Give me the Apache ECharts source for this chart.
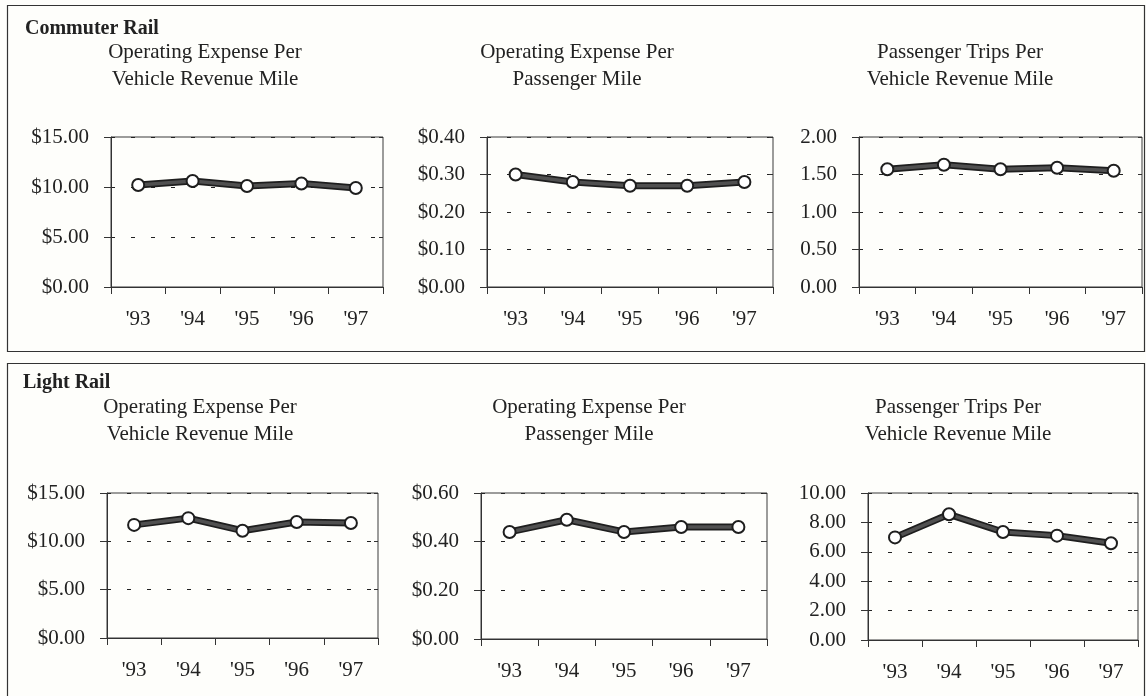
<!DOCTYPE html>
<html>
<head>
<meta charset="utf-8">
<script src="https://cdn.jsdelivr.net/npm/echarts@6/dist/echarts.min.js"></script>
<style>
html,body{margin:0;padding:0;background:#fefefb;}
#chart{width:1146px;height:696px;}
</style>
</head>
<body>
<div id="chart"></div>
<script>
// ---- data ----
const years = ["'93", "'94", "'95", "'96", "'97"];
const commuterVRM = [10.2, 10.6, 10.1, 10.35, 9.9];
const commuterPM = [0.30, 0.28, 0.27, 0.27, 0.28];
const commuterTrips = [1.57, 1.63, 1.57, 1.59, 1.55];
const lightVRM = [11.7, 12.4, 11.1, 12.0, 11.9];
const lightPM = [0.44, 0.49, 0.44, 0.46, 0.46];
const lightTrips = [6.98, 8.55, 7.35, 7.1, 6.58];

const panelTitles = ["Commuter Rail", "Light Rail"];
const chartTitles = [
  "Operating Expense Per\nVehicle Revenue Mile",
  "Operating Expense Per\nPassenger Mile",
  "Passenger Trips Per\nVehicle Revenue Mile"
];
// axis ranges: [max, interval, money?]
const axisSpecs = [
  [15, 5, true], [0.4, 0.1, true], [2, 0.5, false],
  [15, 5, true], [0.6, 0.2, true], [10, 2, false]
];
const seriesData = [commuterVRM, commuterPM, commuterTrips, lightVRM, lightPM, lightTrips];

// ---- layout ----
const grids = [
  {left: 111, top: 137, width: 272, height: 150},
  {left: 487, top: 137, width: 286, height: 150},
  {left: 859, top: 137, width: 283, height: 150},
  {left: 107, top: 493, width: 271, height: 145},
  {left: 481, top: 493, width: 286, height: 146},
  {left: 868, top: 493, width: 270, height: 147}
];
const subtitlePos = [[205, 65.5], [577, 65.5], [960, 65.5], [200, 421], [589, 421], [958, 421]];

const FONT = "'Liberation Serif', 'Times New Roman', serif";
const TXT = '#222';

const option = {
  backgroundColor: '#fefefb',
  animation: false,
  grid: [],
  xAxis: [],
  yAxis: [],
  series: [],
  graphic: []
};

grids.forEach((g, i) => {
  option.grid.push(Object.assign({show: true, borderColor: '#3a3a3a', borderWidth: 1, backgroundColor: 'transparent'}, g));
  const [mx, iv, money] = axisSpecs[i];
  option.xAxis.push({
    type: 'category', gridIndex: i, data: years, boundaryGap: true,
    axisLine: {lineStyle: {color: '#333', width: 1}},
    axisTick: {show: true, inside: false, length: 7, lineStyle: {color: '#333'}},
    axisLabel: {color: TXT, fontFamily: FONT, fontSize: 21, margin: 22}
  });
  option.xAxis.push({
    type: 'category', gridIndex: i, data: years, boundaryGap: true,
    axisLine: {show: false},
    axisTick: {show: true, inside: true, length: 4, lineStyle: {color: '#333'}},
    axisLabel: {show: false}
  });
  option.yAxis.push({
    type: 'value', gridIndex: i, min: 0, max: mx, interval: iv,
    axisLine: {show: true, lineStyle: {color: '#333', width: 1}},
    axisTick: {show: true, inside: false, length: 7, lineStyle: {color: '#333'}},
    axisLabel: {
      color: TXT, fontFamily: FONT, fontSize: 21, margin: 22,
      formatter: v => (money ? '$' : '') + v.toFixed(2)
    },
    splitLine: {show: true, lineStyle: {color: '#222', width: 1.2, type: [4, 16]}}
  });
  option.yAxis.push({
    type: 'value', gridIndex: i, min: 0, max: mx, interval: iv,
    axisLine: {show: false},
    axisTick: {show: true, inside: true, length: 4, lineStyle: {color: '#333'}},
    axisLabel: {show: false},
    splitLine: {show: false}
  });
  option.series.push({
    type: 'line', xAxisIndex: 2 * i, yAxisIndex: 2 * i, data: seriesData[i],
    symbol: 'none', lineStyle: {color: '#1e1e1e', width: 7}, z: 3
  });
  option.series.push({
    type: 'line', xAxisIndex: 2 * i, yAxisIndex: 2 * i, data: seriesData[i],
    symbol: 'circle', symbolSize: 12,
    itemStyle: {color: '#ffffff', borderColor: '#1e1e1e', borderWidth: 2},
    lineStyle: {color: '#505050', width: 3.5}, z: 4
  });
  option.graphic.push({
    type: 'text',
    style: {
      text: chartTitles[i % 3], x: subtitlePos[i][0], y: subtitlePos[i][1],
      textAlign: 'center', textVerticalAlign: 'middle',
      font: '21px ' + FONT, fill: TXT, lineHeight: 27
    }
  });
});

option.graphic.push(
  {type: 'rect', shape: {x: 7.5, y: 5.5, width: 1137, height: 346}, style: {fill: 'none', stroke: '#333', lineWidth: 1.2}, z: -1},
  {type: 'rect', shape: {x: 7.5, y: 363.5, width: 1137, height: 340}, style: {fill: 'none', stroke: '#333', lineWidth: 1.2}, z: -1},
  {type: 'text', style: {text: panelTitles[0], x: 25, y: 29, textVerticalAlign: 'middle', font: 'bold 20px ' + FONT, fill: TXT}},
  {type: 'text', style: {text: panelTitles[1], x: 23, y: 383, textVerticalAlign: 'middle', font: 'bold 20px ' + FONT, fill: TXT}}
);

const chart = echarts.init(document.getElementById('chart'), null, {renderer: 'canvas'});
chart.setOption(option);
</script>
</body>
</html>
